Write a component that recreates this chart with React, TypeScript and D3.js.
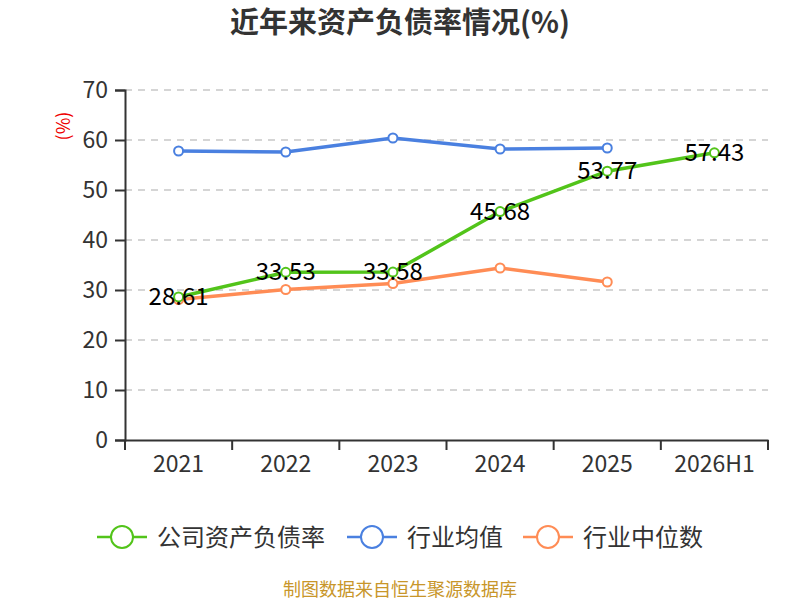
import React, { useEffect, useRef } from 'react';
import * as d3 from 'd3';

const categories = ['2021', '2022', '2023', '2024', '2025', '2026H1'];
const companyRatio = [28.61, 33.53, 33.58, 45.68, 53.77, 57.43];
const industryAvg = [57.8, 57.6, 60.4, 58.2, 58.4];
const industryMedian = [28.1, 30.1, 31.3, 34.4, 31.6];
const yTicks = [0, 10, 20, 30, 40, 50, 60, 70];

const seriesNames = ['公司资产负债率', '行业均值', '行业中位数'];
const colors = ['#52c41a', '#4a80e0', '#ff8c55'];

const FONT = '"Microsoft YaHei", "Noto Sans CJK SC", "Noto Sans", sans-serif';

const App: React.FC = () => {
  const ref = useRef<SVGSVGElement>(null);

  useEffect(() => {
    const svg = d3.select(ref.current);
    svg.selectAll('*').remove();
    const margin = { top: 90, right: 32, bottom: 160, left: 125 };
    const width = 800 - margin.left - margin.right;
    const height = 600 - margin.top - margin.bottom;

    svg.append('rect').attr('width', 800).attr('height', 600).attr('fill', '#fff');

    // title
    svg.append('text')
      .attr('x', 400).attr('y', 33)
      .attr('text-anchor', 'middle')
      .attr('font-size', 29).attr('font-weight', 'bold')
      .attr('fill', '#333')
      .text('近年来资产负债率情况(%)');

    const g = svg.append('g').attr('transform', `translate(${margin.left},${margin.top})`);

    const x = d3.scaleBand().domain(categories).range([0, width]);
    const y = d3.scaleLinear().domain([0, 70]).range([height, 0]);
    const cx = (c: string) => (x(c) || 0) + x.bandwidth() / 2;

    // grid
    g.append('g').selectAll('line')
      .data(yTicks.filter(t => t > 0))
      .join('line')
      .attr('x1', 0).attr('x2', width)
      .attr('y1', d => y(d)).attr('y2', d => y(d))
      .attr('stroke', '#c8c8c8').attr('stroke-width', 1.5)
      .attr('stroke-dasharray', '7,6');

    // y axis
    const yAxis = g.append('g')
      .call(d3.axisLeft(y).tickValues(yTicks).tickSize(10).tickPadding(7));
    yAxis.select('.domain').attr('stroke', '#333').attr('stroke-width', 2);
    yAxis.selectAll('.tick line').attr('stroke', '#333').attr('stroke-width', 2);
    yAxis.selectAll('.tick text')
      .attr('font-size', 23).attr('fill', '#333').attr('font-family', FONT);

    // x axis
    const xAxis = g.append('g')
      .attr('transform', `translate(0,${height})`)
      .call(d3.axisBottom(x).tickSize(0).tickPadding(16));
    xAxis.select('.domain').attr('stroke', '#333').attr('stroke-width', 2);
    xAxis.selectAll('.tick text')
      .attr('font-size', 23).attr('fill', '#333').attr('font-family', FONT);
    g.append('g').selectAll('line')
      .data(d3.range(categories.length + 1))
      .join('line')
      .attr('x1', d => d * x.step()).attr('x2', d => d * x.step())
      .attr('y1', height).attr('y2', height + 10)
      .attr('stroke', '#333').attr('stroke-width', 2);

    // unit label
    svg.append('text')
      .attr('transform', 'translate(70,126) rotate(-90)')
      .attr('text-anchor', 'middle')
      .attr('font-size', 18).attr('fill', '#e00')
      .text('(%)');

    const seriesData = [companyRatio, industryAvg, industryMedian];
    const line = d3.line<number>()
      .x((_, i) => cx(categories[i]))
      .y(d => y(d));

    // draw order: avg, median, company on top
    [1, 2, 0].forEach(si => {
      const data = seriesData[si];
      g.append('path')
        .datum(data)
        .attr('fill', 'none')
        .attr('stroke', colors[si])
        .attr('stroke-width', 3.5)
        .attr('d', line);
      g.append('g').selectAll('circle')
        .data(data)
        .join('circle')
        .attr('cx', (_, i) => cx(categories[i]))
        .attr('cy', d => y(d))
        .attr('r', 4.5)
        .attr('fill', '#fff')
        .attr('stroke', colors[si])
        .attr('stroke-width', 2);
    });

    // company labels
    g.append('g').selectAll('text')
      .data(companyRatio)
      .join('text')
      .attr('x', (_, i) => cx(categories[i]))
      .attr('y', d => y(d) + 8)
      .attr('text-anchor', 'middle')
      .attr('font-size', 24)
      .attr('fill', '#000')
      .text(d => d.toFixed(2));

    // legend
    const legendX = [97, 347, 523];
    const legend = svg.append('g').selectAll('g')
      .data(seriesNames)
      .join('g')
      .attr('transform', (_, i) => `translate(${legendX[i]},537)`);
    legend.append('line')
      .attr('x1', 0).attr('x2', 50)
      .attr('stroke', (_, i) => colors[i]).attr('stroke-width', 2.5);
    legend.append('circle')
      .attr('cx', 25).attr('r', 11)
      .attr('fill', '#fff')
      .attr('stroke', (_, i) => colors[i]).attr('stroke-width', 2);
    legend.append('text')
      .attr('x', 60).attr('y', 9)
      .attr('font-size', 24).attr('fill', '#333')
      .text(d => d);

    // footer
    svg.append('text')
      .attr('x', 400).attr('y', 596)
      .attr('text-anchor', 'middle')
      .attr('font-size', 18).attr('fill', '#c8962a')
      .text('制图数据来自恒生聚源数据库');
  }, []);

  return (
    <svg
      ref={ref}
      width={800}
      height={600}
      style={{ position: 'absolute', left: 0, top: 0, fontFamily: FONT }}
    />
  );
};

export default App;
